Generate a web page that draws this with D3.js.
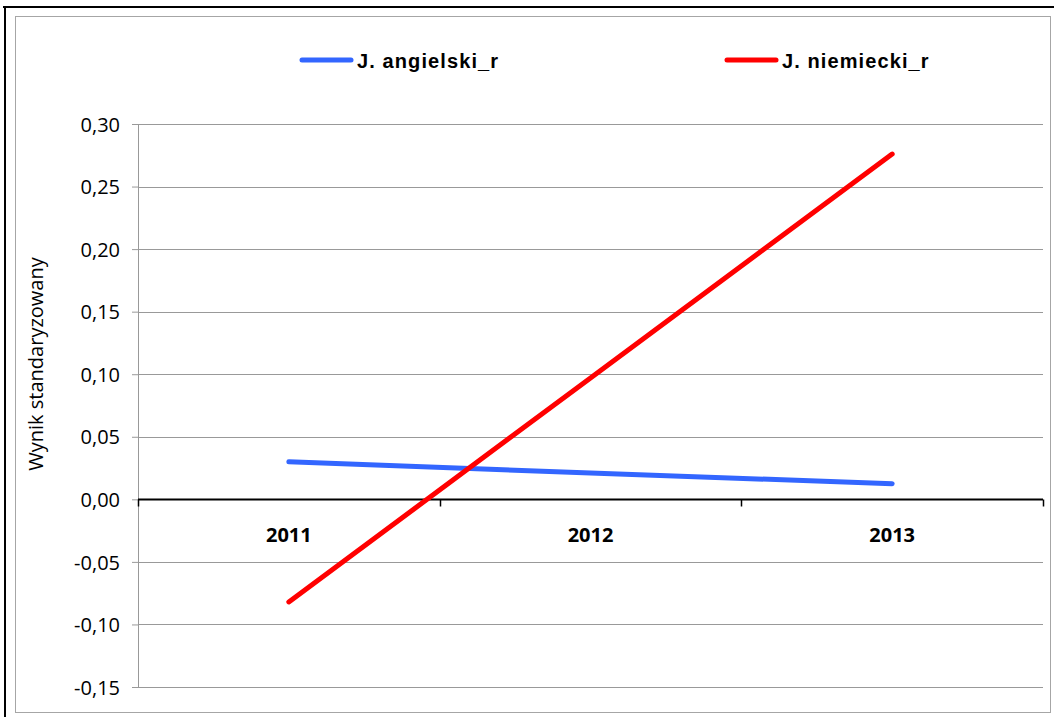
<!DOCTYPE html>
<html>
<head>
  <meta charset="utf-8">
  <title>Wynik standaryzowany</title>
  <script src="https://d3js.org/d3.v7.min.js"></script>
  <style>
    body { margin: 0; background: #fff; }
    .tick-label { font-family: "Open Sans", sans-serif; font-size: 20px; fill: #000; }
    .year-label { font-family: "Open Sans", sans-serif; font-size: 20px; font-weight: bold; fill: #000; }
    .legend text { font-family: "Liberation Sans", Arial, sans-serif; font-size: 20px; font-weight: bold; letter-spacing: 1.1px; }
  </style>
</head>
<body>
<svg id="chart"></svg>
<script>
  // dane
  var years = ["2011", "2012", "2013"];
  var seriesNames = ["J. angielski_r", "J. niemiecki_r"];
  var angielski = [0.030, 0.021, 0.0125];
  var niemiecki = [-0.082, 0.097, 0.276];
  var seriesColors = ["#3366ff", "#ff0000"];
  var yTicks = [-0.15, -0.10, -0.05, 0, 0.05, 0.10, 0.15, 0.20, 0.25, 0.30];

  var W = 1054, H = 717;
  var margin = { top: 124, right: 11, bottom: 30, left: 138 };
  var width = 1043 - margin.left,
      height = 687 - margin.top;

  var svg = d3.select("#chart").attr("width", W).attr("height", H);

  // ramki
  svg.append("line").attr("x1", 3).attr("x2", W).attr("y1", 7).attr("y2", 7)
    .attr("stroke", "#000").attr("stroke-width", 2);
  svg.append("line").attr("x1", 5).attr("x2", 5).attr("y1", 6).attr("y2", H)
    .attr("stroke", "#000").attr("stroke-width", 2);
  svg.append("rect").attr("x", 15.5).attr("y", 16.5).attr("width", 1035).attr("height", 696)
    .attr("fill", "none").attr("stroke", "#a6a6a6").attr("stroke-width", 1);

  var chart = svg.append("g")
    .attr("transform", "translate(" + margin.left + "," + margin.top + ")");

  var x = d3.scaleBand().domain(years).range([0, width]).padding(0);
  var y = d3.scaleLinear().domain([-0.15, 0.30]).range([height, 0]);

  var fmt = function (d) { return d3.format(".2f")(d).replace(".", ",").replace("−", "-"); };

  // linie siatki
  chart.append("g")
    .selectAll("line")
    .data(yTicks)
    .enter().append("line")
    .attr("x1", 0).attr("x2", width)
    .attr("y1", function (d) { return Math.round(y(d)) + 0.5; })
    .attr("y2", function (d) { return Math.round(y(d)) + 0.5; })
    .attr("stroke", "#999").attr("stroke-width", 1);

  // oś Y
  var yAxis = d3.axisLeft(y).tickValues(yTicks).tickSize(6).tickPadding(12).tickFormat(fmt);
  var gy = chart.append("g").call(yAxis);
  gy.select(".domain").attr("stroke", "#999").attr("d", "M0.5," + height + "V0");
  gy.selectAll(".tick line").attr("stroke", "#999");
  gy.selectAll(".tick text").attr("class", "tick-label").attr("dy", "0.36em");

  // tytuł osi Y
  svg.append("text")
    .attr("transform", "translate(43,364) rotate(-90)")
    .attr("text-anchor", "middle")
    .style("font-family", "'Open Sans', sans-serif")
    .style("font-size", "20px")
    .text("Wynik standaryzowany");

  // oś X na wysokości zera
  var y0 = Math.round(y(0)) + 0.5;
  chart.append("line")
    .attr("x1", 0).attr("x2", width).attr("y1", y0).attr("y2", y0)
    .attr("stroke", "#000").attr("stroke-width", 2);
  var bounds = years.map(function (d) { return x(d); }).concat([width]);
  chart.append("g").selectAll("line")
    .data(bounds)
    .enter().append("line")
    .attr("x1", function (d) { return Math.round(d) + 0.5; })
    .attr("x2", function (d) { return Math.round(d) + 0.5; })
    .attr("y1", y0).attr("y2", y0 + 7)
    .attr("stroke", "#000").attr("stroke-width", 1.5);
  chart.append("g").selectAll("text")
    .data(years)
    .enter().append("text")
    .attr("class", "year-label")
    .attr("x", function (d) { return x(d) + x.bandwidth() / 2; })
    .attr("y", y0 + 42)
    .attr("text-anchor", "middle")
    .text(function (d) { return d; });

  // serie
  var series = [angielski, niemiecki];
  var line = d3.line()
    .x(function (d, i) { return x(years[i]) + x.bandwidth() / 2; })
    .y(function (d) { return y(d); });

  chart.selectAll(".series")
    .data(series)
    .enter().append("path")
    .attr("class", "series")
    .attr("d", line)
    .attr("fill", "none")
    .attr("stroke", function (d, i) { return seriesColors[i]; })
    .attr("stroke-width", 5)
    .attr("stroke-linecap", "round")
    .attr("stroke-linejoin", "round");

  // legenda
  var legendX = [302, 727];
  var legend = svg.append("g").attr("class", "legend")
    .selectAll("g")
    .data(seriesNames)
    .enter().append("g")
    .attr("transform", function (d, i) { return "translate(" + legendX[i] + ",60)"; });
  legend.append("line")
    .attr("x1", 0).attr("x2", 49).attr("y1", 0).attr("y2", 0)
    .attr("stroke", function (d, i) { return seriesColors[i]; })
    .attr("stroke-width", 5)
    .attr("stroke-linecap", "round");
  legend.append("text")
    .attr("x", 55).attr("y", 8)
    .text(function (d) { return d; });
</script>
</body>
</html>
